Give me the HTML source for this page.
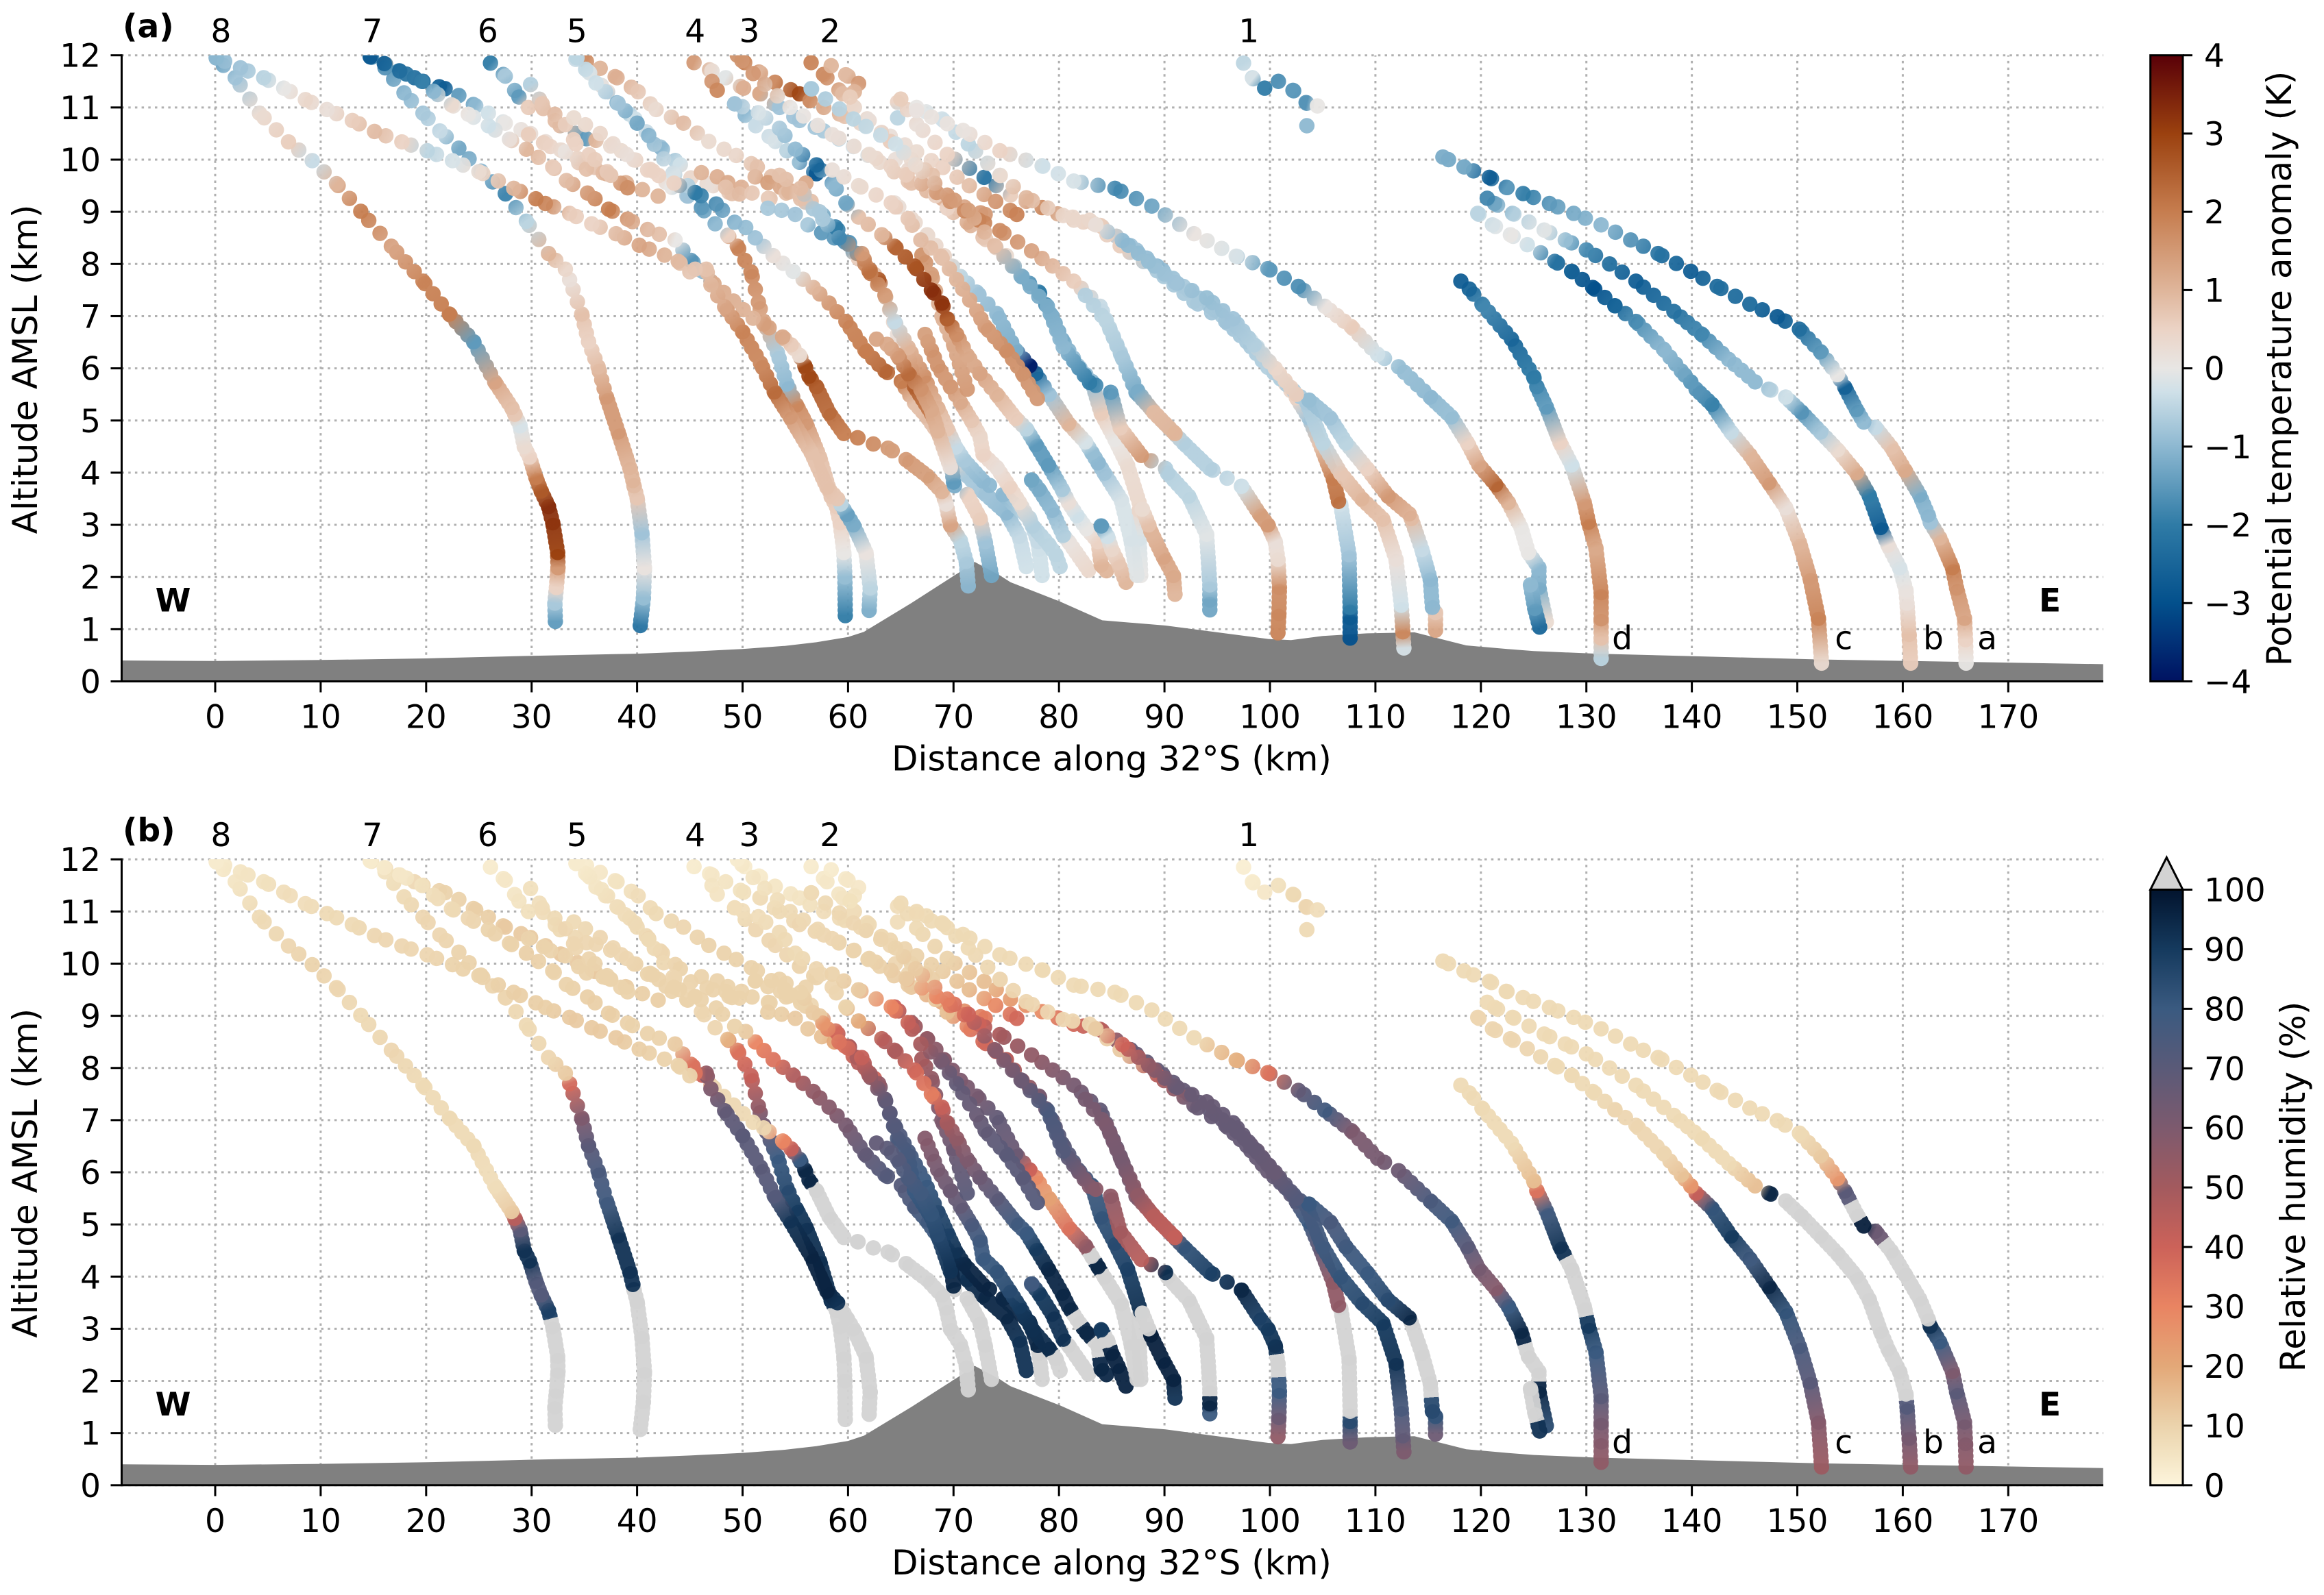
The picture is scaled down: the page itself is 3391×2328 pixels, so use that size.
<!DOCTYPE html>
<html lang="en">
<head>
<meta charset="utf-8">
<title>Potential temperature anomaly and relative humidity along 32°S</title>
<style>
html,body{margin:0;padding:0;background:#fff;}
svg{display:block;}
text{font-family:"DejaVu Sans","Liberation Sans",sans-serif;fill:#000;}
</style>
</head>
<body>
<svg id="chart" xmlns="http://www.w3.org/2000/svg" width="3391" height="2328" viewBox="0 0 3391 2328"></svg>
<script>
// ---- axis tick labels and annotations ----
const xTicks=[0,10,20,30,40,50,60,70,80,90,100,110,120,130,140,150,160,170];
const yTicks=[0,1,2,3,4,5,6,7,8,9,10,11,12];
const thetaTicks=[-4,-3,-2,-1,0,1,2,3,4];
const humidityTicks=[0,10,20,30,40,50,60,70,80,90,100];
const legNames=['8','7','6','5','4','3','2','1'];
const legKm=[0.55,14.9,25.85,34.3,45.5,50.65,58.3,98];
const endNames=['a','b','c','d'];
const endKm=[168,162.9,154.4,133.4];
const terrainKm=[-8.87,0,10,20,30,40,45,50,54,57,60,61.5,66,70.7,72,74.4,75.4,80.1,84.1,90.1,99.9,102,105,109.2,113.7,118.6,122.5,125,131,152,179];
const terrainAlt=[0.4,0.39,0.41,0.44,0.49,0.53,0.57,0.62,0.68,0.75,0.85,0.95,1.5,2.11,2.29,2.03,1.9,1.53,1.17,1.07,0.81,0.79,0.87,0.92,0.94,0.69,0.62,0.58,0.53,0.42,0.33];

// ---- series: one km / alt / theta anomaly / RH array per sonde track (RH above 100 = over range, grey) ----
const km01=[32.25,32.2,32.35,32.5,32.47,32.0,31.6,30.9,30.4,29.8,29.3,28.9,28.4,28.1,26.5,24.5,22.2,19.7,16.7,13.8,11.5,9.2,6.95,4.2,1.9,0.1];
const alt01=[1.15,1.5,1.8,2.18,2.47,3.04,3.35,3.65,3.91,4.3,4.5,4.9,5.12,5.25,5.74,6.51,7.04,7.67,8.34,9.01,9.54,9.98,10.34,10.89,11.57,11.95];
const the01=[-1.5,-0.7,0.5,1.5,3,3.2,3.3,2.6,2,0.5,0.3,-0.2,0.7,0.8,1.3,-1.5,2,1.9,1.3,2,1,-0.4,0.6,0.3,-0.8,-1.5];
const rh01=[110,110,110,110,110,110,88,72,72,92,92,70,45,12,7,8,8,8,9,8,9,10,9,8,5,3];
const km02=[40.3,40.6,40.7,40.45,40,39.7,39.6,39.3,38.2,37.1,36.3,35.4,34.75,33.6,33.2,31.6,29.5,27.5,25.2,23.1,21.3,19.7,17.9,16.1,14.7];
const alt02=[1.07,1.6,2.18,2.85,3.52,3.75,3.85,4.1,4.78,5.45,6.03,6.51,7.04,7.7,7.9,8.2,8.82,9.35,9.78,10.22,10.55,10.89,11.28,11.76,11.98];
const the02=[-2.2,-0.9,0.1,-0.8,0.7,0.9,1,1,1.5,1.5,0.9,0.5,0.8,0.2,0.4,1,-0.5,-1.8,-1,-1.3,-0.4,-0.7,-1,-1.6,-1.8];
const rh02=[110,110,110,110,110,110,92,92,92,78,75,70,60,38,12,9,8,9,10,10,9,9,8,6,4];
const km03=[59.74,59.7,59.6,59.25,58.9,58.4,57.3,56,55.1,54.2,53.3,52,51.5,50.8,49.5,48.6,47.4,46.1,45.5,44.8,43.4,41.1,40,38.2,36.1,34.3];
const alt03=[1.26,2,2.47,3.04,3.35,3.54,4.3,4.95,5.3,5.7,6.3,6.9,7.27,7.85,8.34,8.55,8.77,9.08,9.37,9.5,9.74,10.46,10.7,11.08,11.47,11.95];
const the03=[-2,-0.9,0,0.5,0.6,0.7,0.8,1.5,1.8,-1,-0.7,1.2,1.5,1.8,1.9,0.5,-1,-1.5,-1.8,-0.6,-0.2,-1,-1.3,-0.8,-0.3,-0.5];
const rh03=[110,110,110,110,110,92,93,92,90,85,80,65,55,42,35,18,9,9,9,9,9,8,8,7,5,3];
const km04=[71.4,71.2,70.65,69.7,69.3,68.9,67.5,65.5,63.8,62.4,60.9,59.6,58.2,57,56.3,55.9,55.4,54.6,53.8,52,51,47,46.2,45.1,43.6,42.1,41,39.1,37.3,35.3,33.3,32,29.5,27.9,25.9,24,22.4,20.7,19.6,17.5,14.7];
const alt04=[1.83,2.3,2.7,3,3.4,3.64,3.94,4.25,4.47,4.55,4.67,4.75,5.15,5.65,5.85,6.05,6.25,6.45,6.6,6.85,6.96,7.67,7.86,8.07,8.46,8.57,8.66,8.86,9.05,9.36,9.6,9.86,10.2,10.39,10.65,10.87,11.05,11.31,11.5,11.7,11.97];
const the04=[-1,-0.7,-0.5,1.3,0.2,1,1.4,1.5,1.4,1.7,1.8,2,2.3,2.5,2.9,2.9,0.3,0.6,1.2,1.4,1,1.2,-1,-1.6,0,0.8,0.9,1.3,2,1.5,0.9,0.6,1,0.2,-0.3,0,0.3,-1,-1.9,-2.3,-2.8];
const rh04=[110,110,110,110,110,110,110,110,110,110,110,110,110,110,95,95,80,42,30,9,8,9,40,35,12,10,10,10,11,11,10,10,11,10,10,9,8,7,6,4,3];
const km05=[62,62.1,61.7,60.5,59.9,59.3,59,58,56.5,54.5,53,51.7,50,48.3,47,46.56,45.5,45,43.9,42.6,40.2,38,35.7,33.6,31.3,30.4,28.3,25,22.5,20.1,17.7,15.1,13,10.6,8.55,6.5,4.6,2.4,0.1];
const alt05=[1.36,1.79,2.47,3,3.2,3.4,3.5,3.72,4.39,5.07,5.55,6.1,6.7,7.18,7.6,7.9,7.9,7.85,8.05,8.17,8.36,8.58,8.77,8.97,9.16,9.25,9.45,9.77,9.98,10.17,10.34,10.54,10.75,10.96,11.15,11.37,11.57,11.76,11.95];
const the05=[-1.2,-0.5,0.1,-1.2,-1.4,-0.5,0.7,0.8,0.8,1.5,2.3,1.8,1.9,1.3,1,0.8,0.7,0.7,0.9,1,1.3,0.9,0.5,0.6,1.8,2,1,0.3,-0.2,-0.5,0.5,0.9,0.6,0.2,0.4,0,-0.5,-0.8,-1];
const rh05=[110,110,110,110,110,110,92,96,96,92,72,70,70,68,60,55,35,10,10,10,11,12,12,12,11,11,11,10,10,9,9,9,8,8,7,7,6,5,3];
const km06=[76.9,76.24,75,72.8,71.3,70,68.8,67.4,66.3,65.05,63.5,61.6,59.8,58.2,56.7,54.8,52.9,51.2,50.3,49.25,47.5,45.5,43.5,41,39,36.5,34];
const alt06=[2.2,2.78,3.23,3.63,3.94,4.34,4.69,5.09,5.34,5.75,5.95,6.35,6.9,7.25,7.55,7.86,8.16,8.5,8.7,8.8,9.15,9.37,9.55,9.8,10.1,10.5,10.8];
const the06=[-0.3,-0.4,-1,-0.8,-0.7,0.5,0.7,0.9,0.8,2,2.4,2,1.9,1.5,1,-0.1,0.2,-0.8,-0.9,-1,-1.6,-2,0.5,0.5,0.2,0.4,0.3];
const rh06=[92,92,95,95,93,90,80,78,75,72,72,68,62,58,55,47,35,30,12,10,10,10,10,10,9,9,8];
const km07=[73.6,73,72.5,71.3,70.1,70,69.7,69,67.9,66.3,65.7,64.7,63.5,62.9,61.6,60.1,58.8,57.3,55.5];
const alt07=[2.03,2.68,3.13,3.58,3.75,3.82,4.3,4.65,5.14,5.65,6.3,6.65,7.4,7.7,8,8.41,8.71,9,9.25];
const the07=[-1.3,-0.8,0.6,0.5,-1.2,-1.5,0.4,0.8,2,2.5,0.6,0.2,0.6,2.6,1.8,-1.5,-2,-0.7,0.8];
const rh07=[110,110,110,110,110,95,95,88,83,80,78,75,68,55,48,48,38,12,10];
const km08=[78.4,78.1,78,77.2,74.7,72.8,71,70.2,69.4,68.5,67.2,65.7,64.4,63.5,62,61.3,59.15,57.6,56.7,55.5,53.5];
const alt08=[2.03,2.53,2.68,3.13,3.58,3.84,4.24,4.49,4.84,5.24,5.85,6.4,6.9,7.4,7.86,8.2,8.5,8.86,9.06,9.45,9.7];
const the08=[-0.3,-0.3,-0.4,-0.5,-1,-1,-0.7,-0.4,0.7,1,1.7,1,-0.4,1.4,2.2,1.5,-1.8,-0.7,-0.7,0.9,0.8];
const rh08=[110,110,95,95,95,96,95,92,88,85,80,76,72,68,52,42,35,25,12,10,10];
const km09=[80.1,79.7,79,77.5,76.25,75.3,74.1,72.8,72.5,71.7,70.65,69.7,68.5,67.9,67.3];
const alt09=[2.2,2.43,2.63,2.98,3.43,3.73,4.1,4.35,4.7,5,5.35,5.65,6.05,6.35,6.65];
const the09=[-0.5,-0.5,-0.5,-0.6,0.3,0.5,0.2,0.5,0.4,0.7,1.2,1.5,1.6,1.6,1.4];
const rh09=[110,110,94,93,90,85,82,80,78,75,68,65,62,60,58];
const km10=[82.8,80.9,80.4,79.35,78.1,77.4];
const alt10=[2.13,2.68,2.8,3.28,3.68,3.86];
const the10=[0.4,0.1,-0.6,-1,-1.2,-1.3];
const rh10=[110,110,92,92,90,78];
const km11=[84.5,84,83.7,82.6,81.7,80.9,80.3,79,77.8,76.9,75.9,74.1,72.5,71.3,70.3,69.4,68.9,67.9,66.3,64.4,63.2,61,59.8,58.5,57,55,53.5,51.5,49.25];
const alt11=[2.12,2.23,2.68,2.93,3.18,3.43,3.68,4.14,4.54,4.84,5.04,5.5,5.9,6.25,6.65,6.95,7.25,7.5,7.96,8.34,8.56,8.9,9.17,9.55,9.9,10.2,10.6,10.9,11.07];
const the11=[1,1,0.5,0,-0.3,0.2,-0.7,-1.5,-1.5,-0.5,0.6,1,1.3,1.2,1.7,2.5,3.2,3.3,2.7,2.4,1,0.8,-1.3,-1,-2.5,-1,-0.7,-0.2,-0.8];
const rh11=[95,95,110,95,110,95,95,95,90,80,78,70,65,60,55,50,42,32,38,48,45,20,10,9,9,8,8,7,7];
const km12=[86.35,85.6,85,84.6,84];
const alt12=[1.9,2.28,2.53,2.78,2.98];
const the12=[1,0.7,0.4,-0.3,-1.5];
const rh12=[96,96,96,110,90];
const km13=[87.75,87.6,87.6,87.75,86.5,85.3,84,83.1,81.8,80.3,79.35,78.1,76.5,75,72.8,71.3,69.4,67,64.5];
const alt13=[2.03,2.73,3.28,3.33,4.14,4.64,5.14,5.75,6.05,6.55,7,7.46,7.76,8.16,8.51,8.8,9.07,9.6,10];
const the13=[0,-0.2,0.4,0.4,0.3,0,0.6,-1,-0.8,-1.2,-1.2,-2,-1.3,0.3,0.7,1.2,0.5,0.6,0.2];
const rh13=[110,110,110,93,88,85,82,78,72,70,68,62,50,45,38,32,15,10,9];
const km14=[91,90.85,89.9,88.7,88.5,87.9];
const alt14=[1.67,2.03,2.38,2.88,3,3.3];
const the14=[1,1.2,1.3,1,0.8,0.3];
const rh14=[92,96,96,97,110,110];
const km15=[87.4,86.8,85.9,84.3,83.7,83.1,82.5,80.9,79.05,77.8,77.2,75.9,74.1,72.2,70.65,69.1,67.5,66,64.4];
const alt15=[2.03,2.73,3.48,3.99,4.19,4.39,4.59,4.94,5.5,5.9,6.05,6.35,7.05,7.46,7.76,8.16,8.56,8.87,9.17];
const the15=[-0.1,-0.2,-0.2,-0.8,-1,-0.9,-0.2,1,-0.8,-2.5,-3.8,-1.2,-1,-0.8,-0.5,0.4,0.3,0.3,0.2];
const rh15=[110,110,110,110,95,110,55,35,22,28,40,65,68,62,60,58,55,50,40];
const km16=[77.95,76.55,75,73,72.2,70.3,68.8,66.9,65.7,64.1,61,58.5];
const alt16=[5.42,5.9,6.35,6.8,7.1,7.7,8.15,8.46,8.87,9.17,9.5,9.8];
const the16=[1.5,1.6,1.7,1.5,1.3,1,0.8,0.9,0.7,0.5,0.3,0.2];
const rh16=[72,70,70,68,66,68,62,50,42,30,12,10];
const km17=[100.76,100.85,100.9,100.76,100.5,99.8,99,97.3,94.3,91.8,89.3,87.3,85.8,83.9,81.4,77.4,74.4,72.4,68.4,65.5,62,58.5,54.5,51,49.5];
const alt17=[0.93,1.3,1.8,2.34,2.68,3,3.21,3.74,4.08,4.57,5.1,5.54,6.31,7.19,7.67,8.25,8.64,8.84,9.37,9.71,10.1,10.48,11,11.65,12];
const the17=[1.9,1.8,1.7,0.3,0.2,1.5,1.4,-0.3,-0.6,-0.6,0.8,-1.3,-0.5,-0.4,0.6,1.3,1.7,1.9,1.5,0.6,0.3,0.2,0,1.5,1.6];
const rh17=[55,65,80,110,92,90,88,95,88,82,42,60,65,68,62,55,50,40,30,12,10,9,8,5,3];
const km18=[94.3,94.3,94.3,94,92.3,90.3,90.1,87.8,85.8,84.9,82.9,80.4,78.9,76.4,73.9,71.4,69.4,66.4,64.5,60.5,56.5];
const alt18=[1.37,1.56,1.85,2.82,3.55,3.99,4.08,4.33,4.86,5.54,5.73,6.41,7.19,7.77,8.35,9.03,9.32,9.9,10.3,10.78,11.36];
const the18=[-1.3,-1.3,-0.7,-0.1,-0.5,-0.6,-0.6,1.5,0.6,-1.5,-2,-1,-1.2,-1.2,0.8,1.4,1.5,0.3,-0.3,-0.5,-0.7];
const rh18=[80,95,110,110,110,110,93,45,50,55,58,72,75,65,58,40,32,12,10,9,8];
const km19=[107.6,107.6,107.6,107.5,106.7,106.5,106,104.7,103.7,102.5,100.8,98.8,96.8,94.3,91.8,89.3,86.8,83.9,81.4,78.4,75.4,72.9,69.4,66.5,65];
const alt19=[0.83,1.22,1.42,2.43,3.4,3.45,3.89,4.57,5.05,5.44,5.88,6.41,6.8,7.19,7.57,7.96,8.35,8.74,8.84,9.08,9.32,9.66,10.1,10.68,11.16];
const the19=[-3,-2.8,-2,-0.8,-0.3,2.2,2,0.8,-0.8,0.5,0.4,-0.3,-0.5,-0.9,-0.7,-1,-0.8,0.6,0.4,1.8,0.6,-2.2,0.5,0.2,0.6];
const rh19=[65,85,110,110,110,55,55,68,80,72,62,65,66,68,67,68,66,45,38,28,24,15,10,8,8];
const km20=[112.7,112.6,112.45,111.95,110.7,108.7,106.7,105,103.5,99.8,97.8,95.8,92.8,89.3,85.8,82.9,80.4,76.9,74.4,71.4,68.9,66.5];
const alt20=[0.64,0.95,1.46,2.34,3.11,3.5,3.99,4.57,5.34,6.02,6.51,6.9,7.28,7.87,8.35,8.84,8.93,9.27,9.7,10.3,10.78,11];
const the20=[-0.2,1.8,-0.3,0.2,0.8,1,0.7,-0.5,-0.7,-0.6,-0.7,-0.8,-0.7,-0.7,0.6,0.4,0.4,1,0.3,-0.5,-0.3,0];
const rh20=[60,68,75,92,90,85,82,78,76,66,67,67,66,45,12,9,9,9,9,8,8,8];
const km21=[115.7,115.7,115.4,115.2,114.4,113.4,113.2,111.2,109.2,107.2,105.7,103.7];
const alt21=[0.98,1.32,1.42,1.95,2.53,3.12,3.21,3.55,4.08,4.57,5.05,5.39];
const the21=[1.3,0.7,-1,-1,-0.4,0.9,1.1,1.5,0.5,-0.5,-0.8,-0.9];
const rh21=[65,82,85,110,110,110,95,85,80,78,75,80];
const km22=[102.5,100.5,98.5,96.5,94,91,88.5,86,83.5];
const alt22=[5.5,6,6.45,6.95,7.35,7.65,8.05,8.45,8.75];
const the22=[0.6,0.4,-0.6,-0.8,-0.9,-0.8,-0.9,-1,0.2];
const rh22=[72,66,67,67,66,66,55,40,12];
const km23=[126.2,125.5,125.5,124.5,123.8,122.6,121.4,119.8,118.7,117.2,115.2,112.2,110.2,107.7,105.2,102.7,99.8,96.8,92.8,88.8,85.3,81.4,78.4,74.4,70.9,66.5];
const alt23=[1.14,1.8,2.18,2.47,2.95,3.43,3.77,4.15,4.58,5.07,5.45,6.03,6.27,6.8,7.19,7.57,7.91,8.15,8.58,9.11,9.45,9.59,9.88,10.17,10.56,10.94];
const the23=[0.3,-1.2,-1,0,0,1,2.4,1.3,0.5,-0.9,-1,-0.9,-0.3,0.6,0.1,-1.7,-1.5,-0.2,0.1,-1.3,-1.8,-0.2,-0.3,0.5,0.1,0.1];
const rh23=[85,95,110,110,95,80,58,62,70,78,75,65,62,60,78,68,35,18,8,8,8,8,8,8,8,8];
const km24=[125.57,125.1,124.7];
const alt24=[1.04,1.4,1.85];
const the24=[-2.5,-1.5,-1];
const rh24=[92,110,110];
const km25=[131.4,131.4,131.4,131.4,130.9,130.2,129.8,128.6,127.5,126.2,125.3,125,122.9,120.1,118.9,118.1];
const alt25=[0.44,0.83,1.2,1.7,2.56,3.05,3.43,4.15,4.58,5.26,5.65,5.84,6.56,7.23,7.52,7.67];
const the25=[-0.5,0.8,1.6,1.9,1.2,2,1.5,-0.3,0.5,-1.5,-1.8,-2,-2.5,-1.8,-2.5,-2.7];
const rh25=[55,58,62,70,80,90,110,110,92,78,35,15,8,8,8,8];
const km26=[152.3,152,151.2,150.2,148.9,147.3,145.5,143.7,141.9,140.4,139.9,139,137.3,134.7,132.7,130.6,128.6,127,124.4,122.8,121.1,119.7];
const alt26=[0.35,1.21,1.98,2.66,3.33,3.81,4.34,4.78,5.31,5.6,5.74,5.95,6.37,6.9,7.2,7.55,7.86,8.05,8.37,8.56,8.75,8.97];
const the26=[0.3,1.9,1.5,1,0.2,1.5,1,-0.4,-1.9,-1.6,-1.5,-1.3,-1,-1.7,-2.5,-3,-2.6,-2.2,-0.3,0,-0.2,-0.5];
const rh26=[52,58,70,75,82,95,78,90,82,42,25,14,9,9,9,8,8,8,9,9,9,9];
const km27=[160.75,160.6,160.4,160.3,159.7,158.6,157.9,156.8,155.6,153.8,152.2,150.4,148.9,147.3,146,143.5,140.9,138.3,134.7,132.2,130,128,126,123,121.3,120.6];
const alt27=[0.35,0.9,1.5,1.75,2.18,2.61,2.95,3.57,4,4.44,4.78,5.16,5.45,5.6,5.74,6.17,6.66,7.09,7.67,8,8.27,8.46,8.65,8.97,9.16,9.26];
const the27=[0.6,0.8,0.2,0.1,-0.2,0.2,-2.8,-2,1.2,0.3,-0.7,-1.6,-0.3,-0.6,-1,-1,-1.8,-2.2,-2.7,-2.3,-1.8,-0.9,-0.1,-0.6,-1.3,-1.8];
const rh27=[55,62,72,110,110,110,110,110,110,110,110,110,110,95,15,8,8,8,8,8,8,8,8,8,8,8];
const km28=[166,165.95,165.85,165.1,164.7,163.5,162.6,162.4,161.6,160.2,158.9,157.4,156.3,155.6,154.5,153.8,152.2,150.2,148.1,145.5,142.4,139.9,136.8,134.2,131.4,128.8,126.5,124,122.4,120.8,118.4,116.4];
const alt28=[0.35,0.8,1.21,1.79,2.18,2.75,3.05,3.19,3.57,4.05,4.49,4.87,4.97,5.21,5.64,5.88,6.32,6.75,6.99,7.23,7.57,7.86,8.2,8.46,8.75,8.97,9.16,9.35,9.47,9.66,9.86,10.05];
const the28=[0,0.5,1.3,1.6,2,1,-0.8,-1,-1.2,1.2,0.8,-0.4,-1,-1.5,-2.6,0,-1.5,-2.3,-2.8,-2.4,-2.3,-2.7,-2.2,-1.6,-1,-1.2,-1.5,-2,-1.5,-2.7,-1.3,-1.2];
const rh28=[55,58,62,70,60,80,92,110,110,110,110,65,97,110,70,25,12,8,8,8,8,8,8,8,8,8,8,8,8,8,8,8];
const km29=[14.7,17.4,19.7,21.8,23.1,24.7,25.9,27.5,29.9,32.9,36,39,42];
const alt29=[11.98,11.7,11.5,11.36,11.23,11.03,10.89,10.7,10.5,10.17,9.85,9.55,9.3];
const the29=[1.5,-1.9,-2.5,-2.7,-1.5,-1,-0.3,0,0.2,0.3,0.7,1,1];
const rh29=[4,7,9,10,10,11,11,12,12,12,12,11,11];
const km30=[26.1,27.5,28.8,29.7,31.1,32.7,35.2,36.1,37.5,38.5,41.5,43.3,44.8];
const alt30=[11.85,11.6,11.2,11,10.98,10.65,10.4,10.37,10.26,10.17,9.78,9.47,9.3];
const the30=[-2,-0.7,-1.5,0.6,0.8,0.9,-1.5,1,0.3,0.3,0.5,0,-0.8];
const rh30=[3,4,5,6,7,8,9,9,9,9,10,10,10];
const km31=[29.7,31.8,33.2,35.2,37.1,39.1];
const alt31=[10.48,10.25,10.15,9.82,9.73,9.46];
const the31=[0.6,0.5,0.1,0.8,1,1.7];
const rh31=[10,10,10,10,10,10];
const km32=[29.9,31,32.2,33.2,34.2,36,37.5];
const alt32=[11.44,11.07,10.87,10.67,10.3,10,9.7];
const the32=[-0.6,0.7,0.9,0.6,0.5,0.6,0.7];
const rh32=[6,7,8,9,9,10,10];
const km33=[35.2,36.5,38.1,40.1,41.8,44.4,46.8,49.4,51.4,54,56.5];
const alt33=[11.88,11.75,11.57,11.3,10.96,10.7,10.35,10.08,9.86,9.5,9.2];
const the33=[1.8,1,1.1,0.7,0.3,0.9,0.3,0.4,0.8,0.8,0.8];
const rh33=[3,4,5,7,8,9,10,10,10,10,9];
const km34=[34.2,35.5,37.2,38.1,39.8,41.1,42.4,44.1,45.1,47.2,49];
const alt34=[11.92,11.66,11.3,11.09,10.78,10.48,10.2,9.9,9.65,9.5,9.35];
const the34=[-0.4,-0.2,0.2,-1,-0.3,-0.4,-1,-0.3,0.4,0.2,0.8];
const rh34=[3,4,6,7,8,9,9,10,10,10,10];
const km35=[45.4,47.1,48.4,50.1,51.7,53.5,55.4,57.7,60.5,63,66,69.5,73];
const alt35=[11.86,11.7,11.57,11.37,11.26,11,10.75,10.55,10.25,9.95,9.55,9.2,8.95];
const the35=[1.5,0.3,-0.1,1.1,1.2,-0.8,-0.8,-0.7,-0.3,0.3,0.8,1.1,1.5];
const rh35=[3,4,5,6,7,8,9,9,10,10,12,22,33];
const km36=[47.1,47.6];
const alt36=[11.5,11.33];
const the36=[1.5,1.8];
const rh36=[5,5];
const km37=[50.2,51.7,53.1,55.4,56.4,57.7,59.7,61.7,64,66.5,69,71.5,74,76];
const alt37=[11.86,11.66,11.48,11.26,11.13,11,10.83,10.65,10.45,10.15,9.85,9.5,9.2,8.95];
const the37=[2,1,1.7,2.9,1.8,1.2,0.8,0.2,0.2,0.3,0.5,0.8,1.5,1.9];
const rh37=[3,3,4,5,6,7,8,9,9,10,11,15,28,38];
const km38=[49.25,50.25,51.25,53.1,54.2,55.4,57];
const alt38=[11.07,10.85,10.65,10.35,10.17,9.95,9.73];
const the38=[-1,-1,-0.4,-0.2,-0.5,-0.9,-2.8];
const rh38=[7,8,9,9,9,10,10];
const km39=[56.5,58,59.5,60.6,62,64,66,68];
const alt39=[11.86,11.57,11.26,11,10.75,10.35,10,9.7];
const the39=[1.9,1.7,0.9,0.4,0.2,0.6,0.3,0.8];
const rh39=[3,4,5,7,8,9,10,11];
const km40=[58.4,60,61,60.6,60.2];
const alt40=[11.8,11.6,11.46,11.3,11.2];
const the40=[1,0.9,1.5,1,0.6];
const rh40=[3,4,4,5,6];
const km41=[97.5,98.4,99.5];
const alt41=[11.85,11.55,11.37];
const the41=[-0.5,-0.2,-2];
const rh41=[2,3,4];
const km42=[100.8,102.25,103.5,104.5];
const alt42=[11.5,11.32,11.08,11.03];
const the42=[-1.7,-1.5,-1.6,0];
const rh42=[6,8,9,7];
const km43=[46.1,47.6,48.6,49.9,51.2,52.4,53.6,54.6,56];
const alt43=[9.75,9.67,9.56,9.47,9.67,9.56,9.47,9.4,9.55];
const the43=[1,1.1,1.2,1.1,0.9,1.4,1.2,1.1,1.2];
const rh43=[10,10,10,10,10,10,10,10,10];
const km44=[48.4,49.7,50.9,52.6,54.4,55.7];
const alt44=[9.47,9.34,9.36,9.25,9.38,9.36];
const the44=[0.8,0.9,0.7,0.6,1,0.5];
const rh44=[10,10,10,10,10,10];
const km45=[52.4,53.7,55,56.2,57.5,58.7,59.7,61,62.5];
const alt45=[9.07,9.03,8.95,8.75,8.6,8.5,8.42,8.1,7.8];
const the45=[-0.7,-0.7,-0.8,-0.7,-1.5,-1.5,-1.7,0.6,0.8];
const rh45=[11,11,12,12,14,20,35,45,40];
const km46=[64.7,64.7];
const alt46=[11.1,10.8];
const the46=[0.5,-0.5];
const rh46=[7,7];
const km47=[103.5];
const alt47=[10.65];
const the47=[-1];
const rh47=[8];
const km48=[71.3,70,68.9,67.9,67];
const alt48=[5.6,6.46,7,7.8,8.17];
const the48=[1.5,1.2,1,1.4,1.6];
const rh48=[70,65,60,55,50];
const km49=[69.7,68.5,67.9,66.9,65.7,64.7,63.7,62.7];
const alt49=[4.1,4.8,5.2,5.6,5.9,6.25,6.46,6.56];
const the49=[0.2,1,1.2,1.6,2.3,1.5,1.2,1.3];
const rh49=[92,85,82,78,75,72,70,68];
const km50=[82.5,84.5,86,87.5,89,91];
const alt50=[7.4,6.9,6.2,5.55,5.15,4.75];
const the50=[-0.6,-0.5,-0.7,-1.2,0.9,1];
const rh50=[62,60,62,55,45,42];

const kmSeries=[km29,km30,km31,km32,km33,km34,km35,km36,km37,km38,km39,km40,km41,km42,km43,km44,km45,km46,km47,km01,km02,km03,km04,km05,km06,km07,km08,km09,km48,km49,km10,km11,km12,km13,km14,km15,km16,km17,km18,km19,km20,km21,km22,km50,km23,km24,km25,km26,km27,km28];
const altSeries=[alt29,alt30,alt31,alt32,alt33,alt34,alt35,alt36,alt37,alt38,alt39,alt40,alt41,alt42,alt43,alt44,alt45,alt46,alt47,alt01,alt02,alt03,alt04,alt05,alt06,alt07,alt08,alt09,alt48,alt49,alt10,alt11,alt12,alt13,alt14,alt15,alt16,alt17,alt18,alt19,alt20,alt21,alt22,alt50,alt23,alt24,alt25,alt26,alt27,alt28];
const thetaSeries=[the29,the30,the31,the32,the33,the34,the35,the36,the37,the38,the39,the40,the41,the42,the43,the44,the45,the46,the47,the01,the02,the03,the04,the05,the06,the07,the08,the09,the48,the49,the10,the11,the12,the13,the14,the15,the16,the17,the18,the19,the20,the21,the22,the50,the23,the24,the25,the26,the27,the28];
const rhSeries=[rh29,rh30,rh31,rh32,rh33,rh34,rh35,rh36,rh37,rh38,rh39,rh40,rh41,rh42,rh43,rh44,rh45,rh46,rh47,rh01,rh02,rh03,rh04,rh05,rh06,rh07,rh08,rh09,rh48,rh49,rh10,rh11,rh12,rh13,rh14,rh15,rh16,rh17,rh18,rh19,rh20,rh21,rh22,rh50,rh23,rh24,rh25,rh26,rh27,rh28];

// ---- colour maps ----
const thetaLevels=[-4,-3,-2,-1,-0.3,0,0.5,1,2,3,4];
const thetaColors=['#001261','#03508c','#2f7ba6','#8db8d1','#cfe0e8','#e8e6e4','#ebd3c5','#dfb59a','#c67d4f','#9b410f','#590008'];
const humidityLevels=[0,5,10,20,30,40,50,60,70,80,90,100];
const humidityColors=['#fdf5dc','#f3e4c3','#ebd3ac','#e3a878','#e98462','#cc6259','#a35a5e','#7d5a6e','#5a5a78','#3a5a80','#153a5e','#02142e'];

// ---- drawing ----
const svgNS='http://www.w3.org/2000/svg';
const chart=document.getElementById('chart');
const xLeft=177.5, xRight=3069, kmOrigin=314, kmScale=15.39;
function xPos(km){return kmOrigin+km*kmScale;}
function mk(tag,attrs,parent){
  const n=document.createElementNS(svgNS,tag);
  for(const k in attrs){n.setAttribute(k,attrs[k]);}
  (parent||chart).appendChild(n);
  return n;
}
function hex(c){return [parseInt(c.slice(1,3),16),parseInt(c.slice(3,5),16),parseInt(c.slice(5,7),16)];}
function ramp(levels,colors,v){
  if(v<=levels[0])return colors[0];
  for(let i=1;i<levels.length;i++){
    if(v<=levels[i]){
      const t=(v-levels[i-1])/(levels[i]-levels[i-1]);
      const a=hex(colors[i-1]),b=hex(colors[i]);
      return 'rgb('+[0,1,2].map(j=>Math.round(a[j]+(b[j]-a[j])*t)).join(',')+')';
    }
  }
  return colors[colors.length-1];
}
function colorTheta(v){return ramp(thetaLevels,thetaColors,v);}
function colorHumidity(v){return v>100?'#d3d3d3':ramp(humidityLevels,humidityColors,v);}
function dotGap(alt,dx,dy){
  const base=alt>=8.5?25:alt>=7?19:alt>=5.5?13:8;
  return (dx>1.4*dy&&alt<8.5)?Math.max(base,24):base;
}
let gradCount=0;

function label(str,x,y,size,anchor,weight,parent){
  return mk('text',{x:x,y:y,'font-size':size,'text-anchor':anchor,'font-weight':weight||'normal'},parent);
}

function drawPanel(idx,base,scale,panelTitle,valueSeries,colorFn){
  const yPos=a=>base-a*scale;
  const top=yPos(12);
  const g=mk('g',{});
  
  
  const defs=mk('defs',{},g);
  const clip=mk('clipPath',{id:'clip'+idx},defs);
  mk('rect',{x:xLeft,y:top,width:xRight-xLeft,height:base-top},clip);

  // grid
  const gridG=mk('g',{stroke:'#b0b0b0','stroke-width':3,'stroke-dasharray':'3.5 6.2'},g);
  
  
  xTicks.forEach(k=>{
    const l=mk('line',{x1:xPos(k),x2:xPos(k),y1:base,y2:top},gridG);
    
    
  });
  yTicks.forEach(a=>{
    const l=mk('line',{x1:xLeft,x2:xRight,y1:yPos(a),y2:yPos(a)},gridG);
    
    
  });

  // terrain
  let pts=xPos(terrainKm[0]).toFixed(1)+','+base;
  terrainKm.forEach((k,i)=>{pts+=' '+xPos(k).toFixed(1)+','+yPos(terrainAlt[i]).toFixed(1);});
  pts+=' '+xPos(terrainKm[terrainKm.length-1]).toFixed(1)+','+base;
  const terrain=mk('polygon',{points:pts,fill:'#808080'},g);
  
  

  // tracks
  const tracksG=mk('g',{'clip-path':'url(#clip'+idx+')'},g);
  
  
  kmSeries.forEach((kms,t)=>{
    const alts=altSeries[t], vals=valueSeries[t];
    const tg=mk('g',{fill:'none','stroke-width':22.5,'stroke-linecap':'round','stroke-opacity':0.95},tracksG);
    
    
    for(let i=0;i<kms.length-1;i++){
      const x1=xPos(kms[i]),y1=yPos(alts[i]),x2=xPos(kms[i+1]),y2=yPos(alts[i+1]);
      const id='g'+idx+'_'+(gradCount++);
      const grad=mk('linearGradient',{id:id,gradientUnits:'userSpaceOnUse',x1:x1,y1:y1,x2:x2,y2:y2},defs);
      const c1=colorFn(vals[i]),c2=colorFn(vals[i+1]);
      if((vals[i]>100)!==(vals[i+1]>100)){
        mk('stop',{offset:0,'stop-color':c1},grad);
        mk('stop',{offset:0.5,'stop-color':c1},grad);
        mk('stop',{offset:0.5,'stop-color':c2},grad);
        mk('stop',{offset:1,'stop-color':c2},grad);
      }else{
        mk('stop',{offset:0,'stop-color':c1},grad);
        mk('stop',{offset:1,'stop-color':c2},grad);
      }
      const gap=dotGap((alts[i]+alts[i+1])/2,Math.abs(x2-x1),Math.abs(y2-y1));
      const seg=mk('line',{x1:x1,y1:y1,x2:x2,y2:y2,stroke:'url(#'+id+')','stroke-dasharray':'0 '+gap},tg);
      
      
    }
    const lastIdx=kms.length-1;
    const end=mk('circle',{cx:xPos(kms[lastIdx]),cy:yPos(alts[lastIdx]),r:11.25,fill:colorFn(vals[lastIdx]),'fill-opacity':0.95},tg);
    
    
  });

  // spines and ticks
  const axisG=mk('g',{stroke:'#000','stroke-width':3,fill:'none'},g);
  
  
  const spL=mk('line',{x1:xLeft,x2:xLeft,y1:top-1.5,y2:base+1.5},axisG);
  
  
  const spB=mk('line',{x1:xLeft,x2:xRight,y1:base,y2:base},axisG);
  
  
  xTicks.forEach(k=>{
    const l=mk('line',{x1:xPos(k),x2:xPos(k),y1:base,y2:base+16},axisG);
    
    
    const t=label('',xPos(k),base+68,47,'middle','normal',g);
    t.textContent=String(k);
    
    
  });
  yTicks.forEach(a=>{
    const l=mk('line',{x1:xLeft-16,x2:xLeft,y1:yPos(a),y2:yPos(a)},axisG);
    
    
    const t=label('',147,yPos(a)+17,47,'end','normal',g);
    t.textContent=String(a);
    
    
  });

  // axis titles
  const xTitle=label('',1622,base+130,50,'middle','normal',g);
  xTitle.textContent='Distance along 32°S (km)';
  
  
  const yc=base-455.5;
  const yTitle=label('',0,0,50,'middle','normal',g);
  yTitle.setAttribute('transform','translate(54,'+yc+') rotate(-90)');
  yTitle.textContent='Altitude AMSL (km)';
  
  

  // annotations
  const tag=label('',179,top-26,47,'start','bold',g);
  tag.textContent='('+panelTitle+')';
  
  
  legNames.forEach((n,i)=>{
    const t=label('',xPos(legKm[i]),top-19,47,'middle','normal',g);
    t.textContent=n;
    
    
  });
  endNames.forEach((n,i)=>{
    const t=label('',xPos(endKm[i]),base-47,47,'middle','normal',g);
    t.textContent=n;
    
    
  });
  const west=label('',252.5,base-102,47,'middle','bold',g);
  west.textContent='W';
  
  
  const east=label('',2991,base-102,47,'middle','bold',g);
  east.textContent='E';
  
  
}

function drawColorbar(idx,yBottom,yTop,levels,colors,ticks,title,titleX,titleY,hasOver){
  const g=mk('g',{});
  
  
  const x0=3137.7,x1=3185;
  const defs=mk('defs',{},g);
  const grad=mk('linearGradient',{id:'cb'+idx,x1:0,y1:1,x2:0,y2:0},defs);
  const lo=levels[0],hi=levels[levels.length-1];
  levels.forEach((v,i)=>{mk('stop',{offset:(v-lo)/(hi-lo),'stop-color':colors[i]},grad);});
  const bar=mk('rect',{x:x0,y:yTop,width:x1-x0,height:yBottom-yTop,fill:'url(#cb'+idx+')',stroke:'#000','stroke-width':3},g);
  
  
  if(hasOver){
    const tri=mk('polygon',{points:x0+','+yTop+' '+x1+','+yTop+' '+((x0+x1)/2)+','+(yTop-47),fill:'#d3d3d3',stroke:'#000','stroke-width':3,'stroke-linejoin':'miter'},g);
    
    
  }
  ticks.forEach(v=>{
    const y=yBottom-(v-lo)/(hi-lo)*(yBottom-yTop);
    const l=mk('line',{x1:x1,x2:x1+14,y1:y,y2:y,stroke:'#000','stroke-width':3},g);
    
    
    const t=label('',3216,y+17,47,'start','normal',g);
    t.textContent=v<0?'\u2212'+Math.abs(v):String(v);
    
    
  });
  const tt=label('',0,0,50,'middle','normal',g);
  tt.setAttribute('transform','translate('+titleX+','+titleY+') rotate(-90)');
  tt.textContent=title;
  
  
}

drawPanel(0,994.5,76.15,'a',thetaSeries,colorTheta);
drawPanel(1,2167.8,76.13,'b',rhSeries,colorHumidity);
drawColorbar(0,994.5,80.7,thetaLevels,thetaColors,thetaTicks,'Potential temperature anomaly (K)',3343,538,false);
drawColorbar(1,2167.8,1298.5,humidityLevels,humidityColors,humidityTicks,'Relative humidity (%)',3363,1732,true);
</script>
</body>
</html>
